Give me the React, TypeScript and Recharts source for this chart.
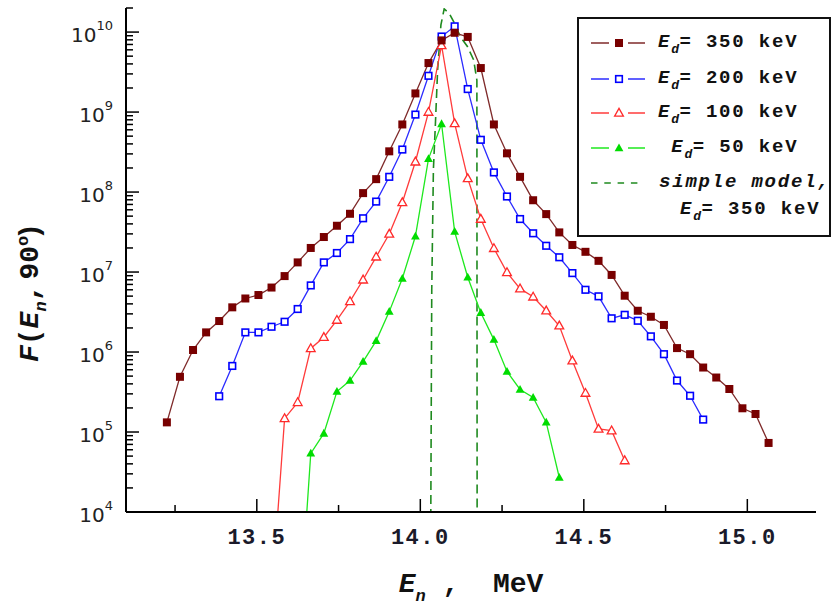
import { LineChart, Line, XAxis, YAxis, Legend } from "recharts";

// neutron energy grid, MeV (bin centres)
const energyGrid = [
  13.225, 13.265, 13.305, 13.345, 13.385, 13.425, 13.465, 13.505, 13.545, 13.585,
  13.625, 13.665, 13.705, 13.745, 13.785, 13.825, 13.865, 13.905, 13.945, 13.985,
  14.025, 14.065, 14.105, 14.145, 14.185, 14.225, 14.265, 14.305, 14.345, 14.385,
  14.425, 14.465, 14.505, 14.545, 14.585, 14.625, 14.665, 14.705, 14.745, 14.785,
  14.825, 14.865, 14.905, 14.945, 14.985, 15.025, 15.065,
];

// F(En, 90deg) for Ed = 350 keV
const flux350 = [
  1.32e5, 4.9e5, 1.06e6, 1.76e6, 2.44e6, 3.62e6, 4.67e6, 5.16e6, 6.4e6, 8.9e6,
  1.32e7, 2.0e7, 2.74e7, 3.79e7, 5.35e7, 9.7e7, 1.45e8, 3.23e8, 7.0e8, 1.71e9,
  4.1e9, 7.87e9, 9.8e9, 8.7e9, 3.55e9, 7.0e8, 3.05e8, 1.55e8, 7.9e7, 5.3e7,
  3.13e7, 2.18e7, 1.79e7, 1.38e7, 9.2e6, 5.06e6, 3.28e6, 2.76e6, 2.18e6, 1.12e6,
  9.4e5, 6.4e5, 4.8e5, 3.45e5, 1.98e5, 1.68e5, 7.3e4,
];

// Ed = 200 keV
const flux200 = [
  null, null, null, null, 2.8e5, 6.7e5, 1.76e6, 1.76e6, 2.07e6, 2.39e6,
  3.45e6, 6.8e6, 1.32e7, 1.73e7, 2.58e7, 4.7e7, 7.6e7, 1.55e8, 3.4e8, 9.3e8,
  2.84e9, 8.8e9, 1.18e10, 1.94e9, 4.5e8, 1.76e8, 8.8e7, 4.6e7, 3.05e7, 2.13e7,
  1.53e7, 9.7e6, 6.0e6, 4.97e6, 2.64e6, 2.92e6, 2.46e6, 1.57e6, 9.4e5, 4.4e5,
  2.84e5, 1.43e5, null, null, null, null, null,
];

// Ed = 100 keV (first value sits below the axis, only its line shows)
const flux100 = [
  null, null, null, null, null, null, null, null, 8e2, 1.48e5,
  2.35e5, 1.11e6, 1.53e6, 2.51e6, 4.3e6, 8.0e6, 1.55e7, 2.99e7, 7.4e7, 2.39e8,
  1.0e9, 6.8e9, 7.2e8, 1.48e8, 4.6e7, 1.98e7, 9.9e6, 6.2e6, 4.9e6, 3.28e6,
  2.13e6, 7.8e5, 3.07e5, 1.09e5, 1.04e5, 4.4e4, null, null, null, null,
  null, null, null, null, null, null, null,
];

// Ed = 50 keV
const flux50 = [
  null, null, null, null, null, null, null, null, null, null,
  2e2, 5.4e4, 9.6e4, 3.2e5, 4.4e5, 7.6e5, 1.38e6, 3.2e6, 8.3e6, 2.8e7,
  2.6e8, 7.1e8, 3.2e7, 8.6e6, 3.1e6, 1.43e6, 5.7e5, 3.4e5, 2.7e5, 1.32e5,
  2.7e4, null, null, null, null, null, null, null, null, null,
  null, null, null, null, null, null, null,
];

// simple model, Ed = 350 keV
const modelEnergy = [14.030, 14.035, 14.040, 14.046, 14.053, 14.063, 14.073, 14.089, 14.107, 14.122, 14.144, 14.163, 14.173, 14.174];
const modelFlux = [1e2, 6e6, 1.9e8, 6.9e8, 3.4e9, 1.23e10, 1.95e10, 1.7e10, 1.23e10, 8.8e9, 6.6e9, 4.5e9, 2.5e9, 1e2];

const xMajorTicks = [13.5, 14.0, 14.5, 15.0];
const xMinorTicks = [13.25, 13.75, 14.25, 14.75];
const yDecades = [1e4, 1e5, 1e6, 1e7, 1e8, 1e9, 1e10];
const yMinorSteps = [2, 3, 4, 5, 6, 7, 8, 9];

const tableData = energyGrid.map((e, i) => ({
  energy: e,
  s350: flux350[i],
  s200: flux200[i],
  s100: flux100[i],
  s50: flux50[i],
}));
const modelData = modelEnergy.map((e, i) => ({ energy: e, model: modelFlux[i] }));

const xTicks = [...xMajorTicks, ...xMinorTicks].sort((a, b) => a - b);
const yTicks = yDecades
  .flatMap((d) => [d, ...yMinorSteps.map((m) => m * d)])
  .filter((v) => v <= 2e10);

const MONO = '"Liberation Mono", "DejaVu Sans Mono", monospace';

const series = [
  { key: "s350", label: "350 keV", lead: "", line: "#7f2a2a", marker: "#780000", shape: "sqFill" },
  { key: "s200", label: "200 keV", lead: "", line: "#2b2bff", marker: "#0000ff", shape: "sqOpen" },
  { key: "s100", label: "100 keV", lead: "", line: "#ff3b3b", marker: "#ff2a2a", shape: "triOpen" },
  { key: "s50", label: "50 keV", lead: " ", line: "#1ee81e", marker: "#00dc00", shape: "triFill" },
];
const MODEL_COLOR = "#1f8a1f";

function Marker({ shape, color, x, y }: any) {
  if (shape === "sqFill") return <rect x={x - 4} y={y - 4} width={8} height={8} fill={color} />;
  if (shape === "sqOpen")
    return <rect x={x - 3.3} y={y - 3.3} width={6.6} height={6.6} fill="#fff" stroke={color} strokeWidth={1.6} />;
  const d = `M${x},${y - 4.6} L${x + 4.4},${y + 3.2} L${x - 4.4},${y + 3.2} Z`;
  if (shape === "triOpen") return <path d={d} fill="#fff" stroke={color} strokeWidth={1.3} />;
  return <path d={d} fill={color} />;
}

const markerRenderer = (shape: string, color: string) => (props: any) => {
  const { cx, cy, index } = props;
  const key = `${shape}-${index}`;
  if (cx == null || cy == null || Number.isNaN(cx) || Number.isNaN(cy)) return <g key={key} />;
  return <Marker key={key} shape={shape} color={color} x={cx} y={cy} />;
};

function XTick(props: any) {
  const { x, y, payload } = props;
  const major = xMajorTicks.includes(payload.value);
  return (
    <g>
      <line x1={x} x2={x} y1={y} y2={y - (major ? 13 : 7)} stroke="#000" strokeWidth={1.5} />
      {major && (
        <text x={x} y={y + 32} textAnchor="middle" fontFamily={MONO} fontWeight={700} fontSize={22} letterSpacing={1.5} fill="#1a1a2a">
          {payload.value.toFixed(1)}
        </text>
      )}
    </g>
  );
}

function YTick(props: any) {
  const { x, y, payload } = props;
  const v = payload.value;
  const exp = Math.round(Math.log10(v));
  const major = Math.abs(v - Math.pow(10, exp)) < 1e-6 * v;
  return (
    <g>
      <line x1={x} x2={x + (major ? 13 : 7)} y1={y} y2={y} stroke="#000" strokeWidth={1.5} />
      {major && (
        <text x={x - 13} y={y + 10} textAnchor="end" fontFamily='"DejaVu Sans", sans-serif' fontSize={20} fill="#222">
          10
          <tspan fontSize={13} dy={-12}>{exp}</tspan>
        </text>
      )}
    </g>
  );
}

function XTitle(props: any) {
  const vb = props.viewBox;
  const cx = vb.x + vb.width / 2;
  const cy = vb.y + 80;
  return (
    <text x={cx} y={cy} textAnchor="middle" fontFamily={MONO} fontWeight={700} fontSize={28} fill="#111" xmlSpace="preserve" style={{ whiteSpace: "pre" }}>
      <tspan fontStyle="italic">E</tspan>
      <tspan fontStyle="italic" fontSize={17} dy={9}>n</tspan>
      <tspan dy={-9}>{" ,  MeV"}</tspan>
    </text>
  );
}

function YTitle(props: any) {
  const vb = props.viewBox;
  const x = vb.x + 38;
  const y = vb.y + 354; // start of the text (bottom, text reads upwards)
  return (
    <text x={x} y={y} transform={`rotate(-90 ${x} ${y})`} textAnchor="start" fontFamily={MONO} fontWeight={700} fontSize={28} fill="#111">
      <tspan fontStyle="italic">F</tspan>(<tspan fontStyle="italic">E</tspan>
      <tspan fontStyle="italic" fontSize={17} dy={8}>n</tspan>
      <tspan dy={-8}>,</tspan>
      <tspan dx={5}>90</tspan>
      <tspan fontSize={17} dy={-10}>o</tspan>
      <tspan dy={10} dx={-4}>)</tspan>
    </text>
  );
}

const Ed = () => (
  <>
    <span style={{ fontStyle: "italic" }}>E</span>
    <span style={{ fontStyle: "italic", fontSize: 13, position: "relative", top: 6, letterSpacing: "0.5px" }}>d</span>
  </>
);

// row centres inside the legend box
const legendRowY = [24, 60, 94, 129, 164];

function LegendBox() {
  const textStyle: any = { position: "absolute", left: 79, height: 20, lineHeight: "20px", whiteSpace: "pre" };
  return (
    <div
      style={{
        position: "relative",
        width: 254,
        height: 220,
        boxSizing: "border-box",
        border: "2px solid #111",
        background: "#fff",
        fontFamily: MONO,
        fontWeight: 700,
        fontSize: 19,
        letterSpacing: "1.8px",
        color: "#111",
      }}
    >
      {series.map((s, i) => (
        <div key={s.key}>
          <svg style={{ position: "absolute", left: 12, top: legendRowY[i] - 8 }} width={56} height={16}>
            <line x1={0} x2={18} y1={8} y2={8} stroke={s.line} strokeWidth={1.5} />
            <line x1={37} x2={54} y1={8} y2={8} stroke={s.line} strokeWidth={1.5} />
            <Marker shape={s.shape} color={s.marker} x={28} y={8} />
          </svg>
          <div style={{ ...textStyle, top: legendRowY[i] - 11 }}>
            {s.lead}
            <Ed />= {s.label}
          </div>
        </div>
      ))}
      <svg style={{ position: "absolute", left: 12, top: legendRowY[4] - 8 }} width={56} height={16}>
        <line x1={0} x2={48} y1={8} y2={8} stroke={MODEL_COLOR} strokeWidth={1.5} strokeDasharray="6.5 6.8" />
      </svg>
      <div style={{ ...textStyle, left: 80, top: legendRowY[4] - 11, fontStyle: "italic" }}>simple model,</div>
      <div style={{ ...textStyle, left: 101, top: legendRowY[4] + 16 }}>
        <Ed />= 350 keV
      </div>
    </div>
  );
}

export default function App() {
  return (
    <div style={{ position: "absolute", left: 0, top: 0, background: "#fff" }}>
      <LineChart width={833} height={605} data={tableData} margin={{ top: 8, right: 17, bottom: 0, left: 0 }}>
        <XAxis
          dataKey="energy"
          type="number"
          domain={[13.1, 15.21]}
          ticks={xTicks}
          interval={0}
          height={93}
          tickLine={false}
          tickSize={0}
          tickMargin={0}
          tick={<XTick />}
          axisLine={{ stroke: "#000", strokeWidth: 2 }}
          allowDataOverflow
          label={<XTitle />}
        />
        <YAxis
          type="number"
          scale="log"
          domain={[1e4, 2e10]}
          ticks={yTicks}
          interval={0}
          width={126}
          tickLine={false}
          tickSize={0}
          tickMargin={0}
          tick={<YTick />}
          axisLine={{ stroke: "#000", strokeWidth: 2 }}
          allowDataOverflow
          label={<YTitle />}
        />
        <Legend
          layout="vertical"
          align="center"
          verticalAlign="middle"
          wrapperStyle={{ left: 577, top: 17, width: 254, height: 220 }}
          content={() => <LegendBox />}
        />
        <Line
          data={modelData}
          dataKey="model"
          name="simple model"
          type="linear"
          stroke={MODEL_COLOR}
          strokeWidth={1.6}
          strokeDasharray="9 5"
          dot={false}
          activeDot={false}
          isAnimationActive={false}
        />
        {[...series].reverse().map((s) => (
          <Line
            key={s.key}
            dataKey={s.key}
            name={s.label}
            type="linear"
            stroke={s.line}
            strokeWidth={1.3}
            dot={markerRenderer(s.shape, s.marker)}
            activeDot={false}
            isAnimationActive={false}
          />
        ))}
      </LineChart>
    </div>
  );
}
